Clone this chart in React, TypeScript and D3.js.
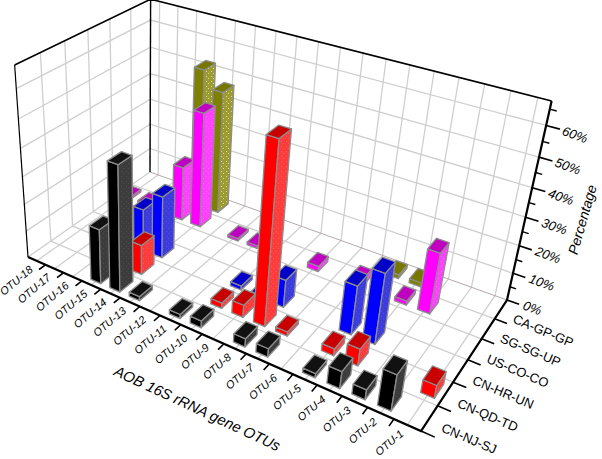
import React from 'react';
import * as d3 from 'd3';

// x axis runs from the left corner to the front corner
const otus = ['OTU-18','OTU-17','OTU-16','OTU-15','OTU-14','OTU-13','OTU-12','OTU-11','OTU-10','OTU-9','OTU-8','OTU-7','OTU-6','OTU-5','OTU-4','OTU-3','OTU-2','OTU-1'];
const samples = ['CN-NJ-SJ','CN-QD-TD','CN-HR-UN','US-CO-CO','SG-SG-UP','CA-GP-GP'];

// values per sample, same order as otus
const njValues = [0,0,0,20,45,1.5,0,1.5,2.5,0,3,3,0,1.5,6,3.5,12.5,0];
const qdValues = [0,0,0,0,11,0,0,0,2,4.5,62.5,1.5,0,2.5,6,0,0,4.5];
const hrValues = [0,0,0,15.5,23,0,0,0,1.5,1,10,0,0,17.5,25,0,0,0];
const usValues = [0,0,0,0,0,0,0,0,0,0,0,0,0,0,0,0,0,0];
const sgValues = [1,1,0,20.5,43,0,1,1,0,0,2,0,3,0,1.5,22,0,0];
const caValues = [0,0,0,52,46,0,0,0,0,0,0,0,0,1.5,1.5,0,0,0];
const seriesValues = [njValues, qdValues, hrValues, usValues, sgValues, caValues];

const pctTicks = [0,10,20,30,40,50,60];
const pctMinor = [5,15,25,35,45,55,65];

const faceColors = [
  { left: '#000000', right: '#3c3c3c', top: '#111111', dot: '#4c4c4c' },
  { left: '#ff0000', right: '#ff3c3c', top: '#c80000', dot: '#ff5858' },
  { left: '#0000ff', right: '#3c3cdc', top: '#0000c8', dot: '#5050e0' },
  { left: '#00a000', right: '#30b030', top: '#008000', dot: '#50c050' },
  { left: '#ff00ff', right: '#ff40ff', top: '#c000c0', dot: '#ff60ff' },
  { left: '#808000', right: '#9c9c30', top: '#777700', dot: '#d8d8a8' },
];

// picture positions of the box corners
const A = [28, 257], B = [421, 431], C = [507, 300], D = [150, 172];
const topA = [15, 65], topC = [552, 100], topD = [150, 0];

function buildProjection() {
  const dx1 = B[0] - C[0], dx2 = D[0] - C[0], sx = A[0] - B[0] + C[0] - D[0];
  const dy1 = B[1] - C[1], dy2 = D[1] - C[1], sy = A[1] - B[1] + C[1] - D[1];
  const det = dx1 * dy2 - dx2 * dy1;
  const g = (sx * dy2 - dx2 * sy) / det;
  const h = (dx1 * sy - sx * dy1) / det;
  const a = B[0] - A[0] + g * B[0], b = D[0] - A[0] + h * D[0], c = A[0];
  const d = B[1] - A[1] + g * B[1], e = D[1] - A[1] + h * D[1], f = A[1];
  // z column from the three top corners, least squares
  const rows: number[][] = [];
  const rhs: number[] = [];
  ([[0, 0, topA], [1, 1, topC], [0, 1, topD]] as any[]).forEach(([u, v, t]) => {
    const w = g * u + h * v + 1;
    rows.push([1, 0, -t[0]]); rhs.push(t[0] * w - (a * u + b * v + c));
    rows.push([0, 1, -t[1]]); rhs.push(t[1] * w - (d * u + e * v + f));
  });
  const m = [0, 1, 2].map(i => [0, 1, 2].map(j => d3.sum(rows, r => r[i] * r[j])));
  const n = [0, 1, 2].map(i => d3.sum(rows, (r, q) => r[i] * rhs[q]));
  const det3 = (k: number[][]) =>
    k[0][0] * (k[1][1] * k[2][2] - k[1][2] * k[2][1]) -
    k[0][1] * (k[1][0] * k[2][2] - k[1][2] * k[2][0]) +
    k[0][2] * (k[1][0] * k[2][1] - k[1][1] * k[2][0]);
  const dm = det3(m);
  const [i, j, k] = [0, 1, 2].map(col => det3(m.map((r, q) => r.map((val, s) => (s === col ? n[q] : val)))) / dm);
  return (u: number, v: number, z: number): [number, number] => {
    const w = g * u + h * v + 1 + k * z;
    return [(a * u + b * v + c + i * z) / w, (d * u + e * v + f + j * z) / w];
  };
}

const project = buildProjection();
const xScale = d3.scaleBand<string>().domain(otus).range([0, 1]);
const yScale = d3.scaleBand<string>().domain(samples).range([0, 1]);
const zScale = d3.scaleLinear().domain([0, 67.5]).range([0, 1]);

const line = d3.line();
const path3 = (pts: number[][]) => line(pts.map(p => project(p[0], p[1], p[2]))) ?? '';
const face = (pts: number[][]) => path3(pts) + 'Z';

const bx = xScale.bandwidth();
const by = yScale.bandwidth();
const barW = bx * 0.52;
const barD = by * 0.6;

const GRID = '#cfcfcf';
const font = '"Liberation Sans", Arial, sans-serif';

export default function App() {
  const bars: { s: number; o: number; v: number }[] = [];
  seriesValues.forEach((vals, s) => vals.forEach((v, o) => { if (v > 0) bars.push({ s, o, v }); }));
  // painter's order: far rows first, then from the left corner forward
  bars.sort((p, q) => q.s - p.s || p.o - q.o);

  const yEdges = d3.range(1, 6).map(i => i / 6);
  const xCenters = otus.map(o => xScale(o)! + bx / 2);
  const xEdges = d3.range(1, 18).map(i => i / 18);

  return (
    <svg width={602} height={459} style={{ position: 'absolute', left: 0, top: 0, background: '#fff' }}>
      <defs>
        {faceColors.map((c, i) => (
          <pattern key={i} id={`dots${i}`} width={5} height={5} patternUnits="userSpaceOnUse">
            <rect width={5} height={5} fill={c.right} />
            <rect x={1} y={1} width={1} height={1} fill={c.dot} />
            <rect x={3} y={3} width={1} height={1} fill={c.dot} />
          </pattern>
        ))}
      </defs>

      {/* walls and floor grid */}
      <g fill="none" stroke={GRID} strokeWidth={1.3}>
        {xCenters.map((x, i) => (
          <path key={'bx' + i} d={path3([[x, 0, 0], [x, 1, 0], [x, 1, 1]])} />
        ))}
        {yEdges.map((y, i) => (
          <path key={'ly' + i} d={path3([[1, y, 0], [0, y, 0], [0, y, 1]])} />
        ))}
        {pctTicks.slice(1).map(t => (
          <path key={'zg' + t} d={path3([[0, 0, zScale(t)], [0, 1, zScale(t)], [1, 1, zScale(t)]])} />
        ))}
        <path d={path3([[0, 0, 0], [0, 1, 0]])} />
        <path d={path3([[0, 1, 0], [1, 1, 0]])} stroke="#b5a8a8" strokeWidth={1} />
      </g>

      {/* box edges */}
      <g fill="none" stroke="#000">
        <path d={path3([[0, 0, 0], [0, 0, 1]])} strokeWidth={1.2} />
        <path d={path3([[0, 0, 1], [0, 1, 1], [1, 1, 1]])} strokeWidth={1.6} />
        <path d={path3([[0, 1, 0], [0, 1, 1]])} strokeWidth={1.4} />
      </g>

      {/* bars */}
      <g stroke="#8c8c8c" strokeWidth={1.3} strokeLinejoin="round">
        {bars.map(({ s, o, v }) => {
          const cx = xCenters[o];
          const cy = yScale(samples[s])! + by / 2;
          const x0 = cx - barW / 2, x1 = cx + barW / 2;
          const y0 = cy - barD / 2, y1 = cy + barD / 2;
          const z = zScale(v);
          const c = faceColors[s];
          return (
            <g key={`${s}-${o}`}>
              <path d={face([[x0, y0, 0], [x1, y0, 0], [x1, y0, z], [x0, y0, z]])} fill={c.left} />
              <path d={face([[x1, y0, 0], [x1, y1, 0], [x1, y1, z], [x1, y0, z]])} fill={`url(#dots${s})`} />
              <path d={face([[x0, y0, z], [x1, y0, z], [x1, y1, z], [x0, y1, z]])} fill={c.top} />
            </g>
          );
        })}
      </g>

      {/* axes */}
      <g fill="none" stroke="#000">
        <path d={path3([[0, 0, 0], [1, 0, 0], [1, 1, 0], [1, 1, 1]])} strokeWidth={2.2} />
        {xEdges.map((x, i) => (
          <path key={'xt' + i} d={path3([[x, 0, 0], [x, -by * 0.28, 0]])} strokeWidth={1.6} />
        ))}
        {[0, ...yEdges].map((y, i) => (
          <path key={'yt' + i} d={path3([[1, y, 0], [1 + bx * 0.5, y, 0]])} strokeWidth={1.6} />
        ))}
        {pctTicks.map(t => (
          <path key={'zt' + t} d={path3([[1, 1, zScale(t)], [1 + bx * 0.5, 1, zScale(t)]])} strokeWidth={1.6} />
        ))}
        {pctMinor.map(t => (
          <path key={'zm' + t} d={path3([[1, 1, zScale(t)], [1 + bx * 0.25, 1, zScale(t)]])} strokeWidth={1.4} />
        ))}
      </g>

      {/* labels */}
      <g fontFamily={font} fill="#000">
        {otus.map((o, i) => {
          const [px, py] = project(xCenters[i], 0, 0);
          const lx = px - 3, ly = py + 10;
          return (
            <text key={o} x={lx} y={ly} fontSize={11} fontStyle="italic" textAnchor="end" transform={`rotate(-40 ${lx} ${ly})`}>{o}</text>
          );
        })}
        {samples.map(s => {
          const [px, py] = project(1, yScale(s)! + by / 2, 0);
          const lx = px + 11, ly = py + 13;
          return (
            <text key={s} x={lx} y={ly} fontSize={13} transform={`rotate(23 ${lx} ${ly})`}>{s}</text>
          );
        })}
        {pctTicks.map(t => {
          const [px, py] = project(1, 1, zScale(t));
          const lx = px + 15, ly = py + 9;
          return (
            <text key={t} x={lx} y={ly} fontSize={13} fontStyle="italic" transform={`rotate(20 ${lx} ${ly})`}>{t}%</text>
          );
        })}
        <text x={195} y={413} fontSize={14.8} fontStyle="italic" textAnchor="middle" transform="rotate(25 195 413)">AOB 16S rRNA gene OTUs</text>
        <text x={587} y={221} fontSize={14} fontStyle="italic" textAnchor="middle" transform="rotate(-74 587 221)">Percentage</text>
      </g>
    </svg>
  );
}
